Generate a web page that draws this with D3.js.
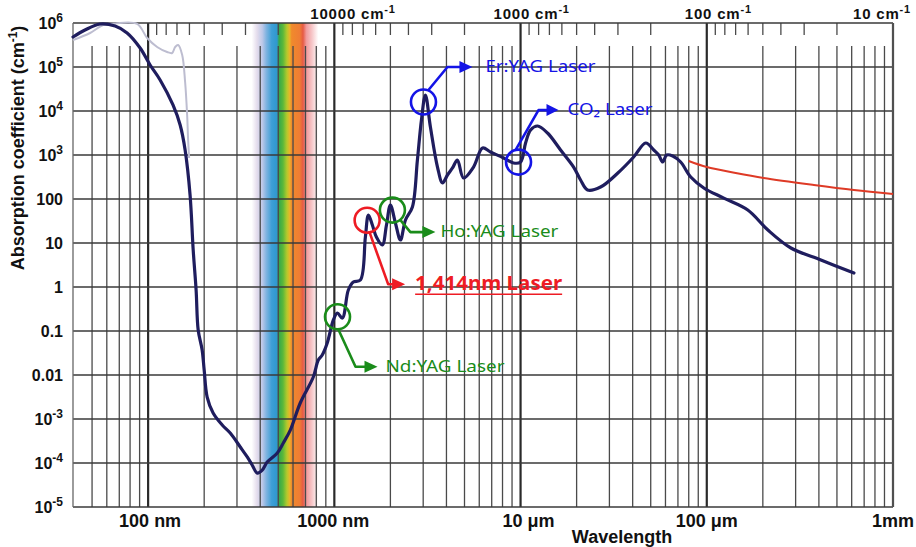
<!DOCTYPE html>
<html><head><meta charset="utf-8">
<script src="https://cdn.jsdelivr.net/npm/d3@7"></script>
<style>body{margin:0;background:#fff}svg{display:block}</style>
</head><body><svg id="c" width="916" height="547"></svg>
<script>
// ---------- data (wavelength in µm, absorption coefficient in cm^-1) ----------
const mainWavelength = [0.0395,0.0458,0.0552,0.0665,0.0771,0.0906,0.1025,0.116,0.136,0.1486,0.158,0.168,0.1746,0.181,0.1857,0.195,0.2,0.2075,0.2234,0.25,0.276,0.3125,0.3406,0.362,0.3855,0.41,0.436,0.494,0.532,0.58,0.656,0.771,0.82,0.861,0.916,0.988,1.038,1.104,1.189,1.265,1.38,1.468,1.524,1.6,1.682,1.81,1.905,2.0,2.128,2.264,2.41,2.625,2.793,2.936,3.083,3.28,3.58,3.81,4.05,4.31,4.58,4.94,5.59,6.25,6.9,8.11,9.17,10.0,10.64,11.32,12.34,13.96,16.4,19.27,21.0,22.9,26.9,33.3,40.5,47.0,51.9,55.2,58.0,60.9,65.6,72.4,82.0,96.4,123.4,166,213,283,410,617];
const mainAlpha = [4.81e5,6.93e5,9.5e5,8.5e5,5.93e5,2.7e5,1.11e5,5.07e4,1.37e4,4.8e3,1.3e3,123,6.93,0.855,0.105,0.037,0.013,3.16e-3,1.37e-3,7.3e-4,4.8e-4,2.31e-4,1.37e-4,9.0e-5,5.9e-5,6.9e-5,1.05e-4,1.69e-4,2.85e-4,5.6e-4,2.31e-3,9.0e-3,0.0219,0.0285,0.0533,0.178,0.256,0.197,0.855,1.3,1.44,13.7,43.3,25.6,13.7,9.0,25.6,73,28.5,11.7,33.3,65.8,769,6240,2.31e4,4330,533,231,351,507,769,300,533,1443,1170,855,658,693,1874,3700,4560,3160,1300,533,270,160,187,390,902,1874,1300,1000,693,1000,949,693,316,178,105,56.2,19.7,7.7,4.1,2.08];

const grayWavelength = [0.0395,0.0488,0.0573,0.0665,0.0873,0.0988,0.1118,0.1265,0.1346,0.1397,0.145,0.1524,0.158,0.162,0.164,0.166];
const grayAlpha = [4.11e5,5.93e5,9.0e5,9.8e5,9.5e5,4.56e5,2.85e5,2.19e5,2.08e5,2.85e5,3.16e5,1.87e5,4.56e4,8110,2190,855];

const redWavelength = [80,100,143,202,376,617,1000];
const redAlpha = [731,533,390,300,208,160,130];

const yTickValues = [1e6,1e5,1e4,1e3,100,10,1,0.1,0.01,1e-3,1e-4,1e-5];
const yTickLabels = ["10^6","10^5","10^4","10^3","100","10","1","0.1","0.01","10^-3","10^-4","10^-5"];
const xTickValues = [0.1,1,10,100,1000];
const xTickLabels = ["100 nm","1000 nm","10 μm","100 μm","1mm"];
const wavenumberValues = [10000,1000,100,10];
const wavenumberLabels = ["10000 cm^-1","1000 cm^-1","100 cm^-1","10 cm^-1"];
const visibleBand = [0.36,0.82];

const laserNames = ["Nd:YAG Laser","1,414nm Laser","Ho:YAG Laser","Er:YAG Laser","CO₂ Laser"];
const laserWavelength = [1.04,1.50,2.05,3.01,9.75];
const laserAlpha = [0.21,33,56,16000,690];

// ---------- layout ----------
const svg = d3.select("#c");
const L = 73, R = 893, T = 23, B = 507;
const x = d3.scaleLog().domain([0.0395, 1000]).range([L, R]);
const y = d3.scaleLog().domain([1e-5, 1e6]).range([B, T]);
const axisFont = "'Liberation Sans', Arial, sans-serif";
const noteFont = "'Noto Sans', 'Open Sans', sans-serif";

// visible spectrum band
const defs = svg.append("defs");
const grad = defs.append("linearGradient").attr("id","vis")
  .attr("gradientUnits","userSpaceOnUse")
  .attr("x1", x(visibleBand[0])).attr("x2", x(visibleBand[1])).attr("y1",0).attr("y2",0);
[[0,"#ffffff"],[0.08,"#e4dcec"],[0.16,"#bcc8e8"],[0.22,"#7fb3e0"],[0.3,"#3d9fd6"],[0.38,"#2f98cf"],[0.41,"#36a84a"],[0.47,"#5cb83a"],[0.53,"#b6c92c"],[0.57,"#e8b42a"],[0.6,"#f08a2c"],[0.72,"#ef7d34"],[0.77,"#e65a44"],[0.82,"#f09a9c"],[0.9,"#f6c4c6"],[1,"#ffffff"]]
  .forEach(s => grad.append("stop").attr("offset", s[0]).attr("stop-color", s[1]));
svg.append("rect").attr("x", x(visibleBand[0])).attr("width", x(visibleBand[1]) - x(visibleBand[0]))
  .attr("y", T).attr("height", B - T).attr("fill", "url(#vis)");

// vertical wavelength grid
const g = svg.append("g");
for (let d = 0.01; d <= 1000; d *= 10) {
  for (let m = 1; m <= 9; m++) {
    const v = +(m * d).toPrecision(3);
    if (v < 0.041 || v > 1000.01) continue;
    const major = m === 1;
    g.append("line").attr("x1", x(v)).attr("x2", x(v))
      .attr("y1", major ? T : 46).attr("y2", B)
      .attr("stroke", major ? "#2a2a2a" : "#4a4a4a")
      .attr("stroke-width", major ? 2.2 : 1.3);
  }
}
// wavenumber ticks at top
[10,100,1000,10000].forEach(dec => {
  for (let m = 2; m <= 9; m++) {
    const lam = 1e4 / (m * dec);
    g.append("line").attr("x1", x(lam)).attr("x2", x(lam)).attr("y1", T).attr("y2", 35)
      .attr("stroke", "#4a4a4a").attr("stroke-width", 1.3);
  }
});
// horizontal grid
yTickValues.forEach(v => {
  g.append("line").attr("x1", L).attr("x2", R).attr("y1", y(v)).attr("y2", y(v))
    .attr("stroke", "#3a3a3a").attr("stroke-width", 1.6);
});
g.append("line").attr("x1", L).attr("x2", L).attr("y1", T).attr("y2", B).attr("stroke", "#666").attr("stroke-width", 1.3);
g.append("line").attr("x1", R).attr("x2", R).attr("y1", T).attr("y2", B).attr("stroke", "#666").attr("stroke-width", 1.3);

// curves
const line = d3.line().x(d => x(d[0])).y(d => y(d[1])).curve(d3.curveCatmullRom.alpha(0.5));
svg.append("path").attr("d", line(d3.zip(grayWavelength, grayAlpha)))
  .attr("fill","none").attr("stroke","#bdbdd0").attr("stroke-width",2);
svg.append("path").attr("d", line(d3.zip(redWavelength, redAlpha)))
  .attr("fill","none").attr("stroke","#de3a26").attr("stroke-width",2);
svg.append("path").attr("d", line(d3.zip(mainWavelength, mainAlpha)))
  .attr("fill","none").attr("stroke","#1f1d5e").attr("stroke-width",3.2)
  .attr("stroke-linejoin","round").attr("stroke-linecap","round");

// helper for text with superscript "^"
function supText(sel, label, supSize, rise) {
  const parts = label.split("^");
  sel.append("tspan").text(parts[0]);
  if (parts[1]) sel.append("tspan").attr("font-size", supSize).attr("dy", -rise).text(parts[1]);
}

// y tick labels
yTickValues.forEach((v, i) => {
  const t = svg.append("text").attr("x", 63).attr("y", y(v) + 6)
    .attr("text-anchor","end").attr("font-family", axisFont).attr("font-weight","bold")
    .attr("font-size", 16).attr("fill","#111");
  supText(t, yTickLabels[i], 12, 7);
});
// x tick labels
const xdx = [2,-1,8,0,0];
xTickValues.forEach((v, i) => {
  svg.append("text").attr("x", x(v) + xdx[i]).attr("y", 527).attr("text-anchor","middle")
    .attr("font-family", axisFont).attr("font-weight","bold").attr("font-size", 18).attr("fill","#111")
    .text(xTickLabels[i]);
});
// wavenumber labels
const wdx = [-24,-27,-22,-40];
wavenumberValues.forEach((wn, i) => {
  const t = svg.append("text").attr("x", x(1e4 / wn) + wdx[i]).attr("y", 19)
    .attr("font-family", axisFont).attr("font-weight","bold").attr("font-size", 15)
    .attr("letter-spacing", 0.8).attr("fill","#111");
  supText(t, wavenumberLabels[i], 11, 6);
});
// axis titles
const yt = svg.append("text").attr("transform","translate(24,148) rotate(-90)")
  .attr("text-anchor","middle").attr("font-family", axisFont).attr("font-weight","bold")
  .attr("font-size", 18).attr("fill","#111");
yt.append("tspan").text("Absorption coefficient (cm");
yt.append("tspan").attr("font-size", 12).attr("dy", -7).text("-1");
yt.append("tspan").attr("dy", 7).text(")");
svg.append("text").attr("x", 622).attr("y", 543).attr("text-anchor","middle")
  .attr("font-family", axisFont).attr("font-weight","bold").attr("font-size", 18).attr("fill","#111")
  .text("Wavelength");

// laser annotations (offsets in px from circle centre)
const noteColor = ["#1a8c1a","#ee1c24","#1a8c1a","#1414e6","#1414e6"];
const noteGeom = [
  {s:[1,13], b:[18,50], h:[28,50], tip:[40,50], t:[48,55], w:119, fs:16, bold:false},
  {s:[2,11], b:[21,64], h:[26,64], tip:[38,64], t:[48,70], w:147, fs:19, bold:true},
  {s:[8,10], b:[18,22], h:[31,22], tip:[43,22], t:[48,27], w:118, fs:16, bold:false},
  {s:[5,-12], b:[24,-35], h:[37,-35], tip:[49,-35], t:[62,-30], w:110, fs:16, bold:false},
  {s:[-3,-12], b:[20,-52], h:[29,-52], tip:[40,-52], t:[49,-47], w:85, fs:16, bold:false}
];
laserNames.forEach((name, i) => {
  const cx = x(laserWavelength[i]), cy = y(laserAlpha[i]), c = noteColor[i], q = noteGeom[i];
  const a = svg.append("g");
  a.append("circle").attr("cx", cx).attr("cy", cy).attr("r", 12.5)
    .attr("fill","none").attr("stroke", c).attr("stroke-width", 2.6);
  a.append("polyline").attr("points", [q.s, q.b, q.h].map(p => [cx + p[0], cy + p[1]].join(",")).join(" "))
    .attr("fill","none").attr("stroke", c).attr("stroke-width", 2.6).attr("stroke-linejoin","round");
  const hx = cx + q.h[0] - 1, hy = cy + q.h[1], tx = cx + q.tip[0];
  a.append("path").attr("d", `M${hx},${hy - 6}L${tx},${hy}L${hx},${hy + 6}Z`).attr("fill", c);
  a.append("text").attr("x", cx + q.t[0]).attr("y", cy + q.t[1])
    .attr("font-family", noteFont).attr("font-size", q.fs).attr("fill", c)
    .attr("font-weight", q.bold ? "bold" : "normal")
    .attr("textLength", q.w).attr("lengthAdjust","spacingAndGlyphs").text(name);
  if (q.bold) {
    a.append("line").attr("x1", cx + q.t[0]).attr("x2", cx + q.t[0] + q.w)
      .attr("y1", cy + q.t[1] + 4).attr("y2", cy + q.t[1] + 4).attr("stroke", c).attr("stroke-width", 1.5);
  }
});
</script>
</body></html>
